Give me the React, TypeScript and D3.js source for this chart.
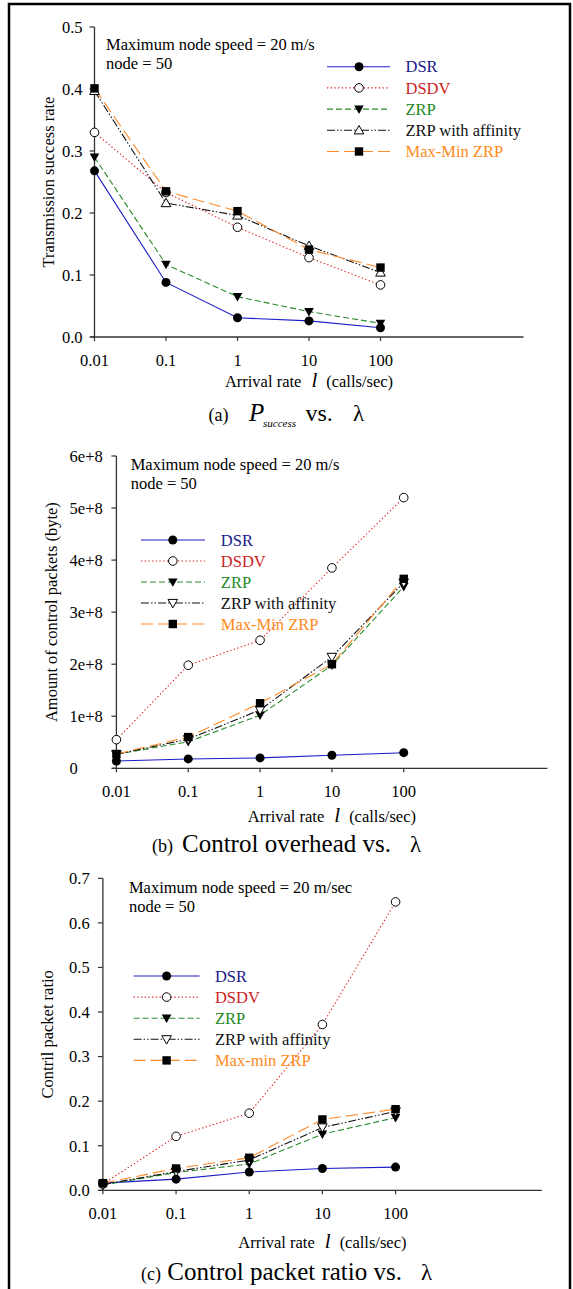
import React from 'react'
import * as d3 from 'd3'

// shared x axis: arrival rate (calls/sec), log scale
const rates = [0.01, 0.1, 1, 10, 100]
const rateLabels = ['0.01', '0.1', '1', '10', '100']
const seriesNames = ['DSR', 'DSDV', 'ZRP', 'ZRP with affinity', 'Max-Min ZRP']
const seriesNamesC = ['DSR', 'DSDV', 'ZRP', 'ZRP with affinity', 'Max-min ZRP']

// (a) transmission success rate
const successDSR = [0.268, 0.088, 0.031, 0.026, 0.015]
const successDSDV = [0.33, 0.233, 0.177, 0.128, 0.084]
const successZRP = [0.29, 0.117, 0.065, 0.041, 0.022]
const successAffinity = [0.397, 0.216, 0.196, 0.147, 0.104]
const successMaxMin = [0.401, 0.235, 0.203, 0.141, 0.112]
const successTicks = [0, 0.1, 0.2, 0.3, 0.4, 0.5]

// (b) amount of control packets (byte)
const overheadDSR = [1.4e7, 1.8e7, 2.0e7, 2.5e7, 3.0e7]
const overheadDSDV = [5.5e7, 1.98e8, 2.46e8, 3.85e8, 5.2e8]
const overheadZRP = [2.7e7, 5.1e7, 1.02e8, 1.98e8, 3.49e8]
const overheadAffinity = [2.7e7, 5.6e7, 1.12e8, 2.14e8, 3.57e8]
const overheadMaxMin = [2.75e7, 6.0e7, 1.25e8, 2.0e8, 3.64e8]
const overheadTicks = [0, 1e8, 2e8, 3e8, 4e8, 5e8, 6e8]
const overheadTickLabels = ['0', '1e+8', '2e+8', '3e+8', '4e+8', '5e+8', '6e+8']

// (c) control packet ratio
const ratioDSR = [0.016, 0.025, 0.041, 0.049, 0.052]
const ratioDSDV = [0.014, 0.121, 0.173, 0.372, 0.647]
const ratioZRP = [0.012, 0.04, 0.059, 0.126, 0.163]
const ratioAffinity = [0.013, 0.042, 0.068, 0.141, 0.177]
const ratioMaxMin = [0.016, 0.049, 0.073, 0.159, 0.182]
const ratioTicks = [0, 0.1, 0.2, 0.3, 0.4, 0.5, 0.6, 0.7]

const FONT = 'Liberation Serif'

const styles = [
  { color: '#1c1cc8', text: '#1a1a8c', dash: '', marker: 'dot' },
  { color: '#e01818', text: '#cc1f1f', dash: '1.3,2.4', marker: 'ring' },
  { color: '#2a8a2a', text: '#1e8a1e', dash: '6,3', marker: 'triDown' },
  { color: '#111111', text: '#111111', dash: '8,2,1.5,2,1.5,2', marker: 'triUpOpen' },
  { color: '#ff8a2a', text: '#ff8a1a', dash: '12,5', marker: 'square' },
]

function Marker({ type, x, y }) {
  if (type === 'dot') return <circle cx={x} cy={y} r={4.5} fill="#000" />
  if (type === 'ring') return <circle cx={x} cy={y} r={4.3} fill="#fff" stroke="#000" strokeWidth={1} />
  if (type === 'square') return <rect x={x - 4.2} y={y - 4.2} width={8.4} height={8.4} fill="#000" />
  const s = 4.8
  if (type === 'triDown')
    return <path d={`M${x - s},${y - s * 0.75}L${x + s},${y - s * 0.75}L${x},${y + s}Z`} fill="#000" />
  if (type === 'triDownOpen')
    return <path d={`M${x - s},${y - s * 0.75}L${x + s},${y - s * 0.75}L${x},${y + s}Z`} fill="#fff" stroke="#000" strokeWidth={1} />
  return <path d={`M${x - s},${y + s * 0.75}L${x + s},${y + s * 0.75}L${x},${y - s}Z`} fill="#fff" stroke="#000" strokeWidth={1} />
}

function Panel(p) {
  const x = d3.scaleLog().domain([0.01, 10000]).range([p.x0, p.x1])
  const y = d3.scaleLinear().domain([0, p.yMax]).range([p.yBottom, p.yTop])
  const line = d3.line().x((d, i) => x(rates[i])).y(d => y(d))
  const markers = styles.map((s, i) => (i === 3 ? p.affinityMarker : s.marker))
  const axisColor = '#333'
  const xMid = (p.x0 + p.x1) / 2
  const yMid = (p.yTop + p.yBottom) / 2

  return (
    <g>
      {/* axes */}
      <line x1={p.x0} x2={p.x0} y1={p.yTop} y2={p.yBottom} stroke={axisColor} strokeWidth={1.3} />
      <line x1={p.x0 - 4} x2={p.x1} y1={p.yBottom} y2={p.yBottom} stroke={axisColor} strokeWidth={1.3} />
      {p.yTicks.map((t, i) => (
        <g key={'yt' + i}>
          <line x1={p.x0 - 5} x2={p.x0} y1={y(t)} y2={y(t)} stroke={axisColor} strokeWidth={1.2} />
          <text x={p.yLabelX} y={y(t)} dy="0.35em" fontSize={16.5} textAnchor={p.yLabelAnchor}>
            {p.yTickLabels[i]}
          </text>
        </g>
      ))}
      {rates.map((r, i) => (
        <g key={'xt' + i}>
          <line x1={x(r)} x2={x(r)} y1={p.yBottom} y2={p.yBottom + 4} stroke={axisColor} strokeWidth={1.2} />
          <text x={x(r)} y={p.yBottom + 23} dy="0.35em" fontSize={16.5} textAnchor="middle">
            {rateLabels[i]}
          </text>
        </g>
      ))}
      <text
        transform={`translate(${p.yTitleX},${yMid}) rotate(-90)`}
        fontSize={16.5}
        textAnchor="middle"
        dominantBaseline="central"
      >
        {p.yTitle}
      </text>
      <text x={xMid} y={p.xLabelY} fontSize={16.5} textAnchor="middle">
        Arrival rate
        <tspan dx={10} fontSize={21} fontStyle="italic">l</tspan>
        <tspan dx={9}>(calls/sec)</tspan>
      </text>

      {/* note */}
      <text x={p.noteX} y={p.noteY} fontSize={16.5}>{p.note}</text>
      <text x={p.noteX} y={p.noteY + 19} fontSize={16.5}>node = 50</text>

      {/* series */}
      {p.series.map((vals, i) => (
        <path
          key={'l' + i}
          d={line(vals)}
          fill="none"
          stroke={styles[i].color}
          strokeWidth={1.1}
          strokeDasharray={styles[i].dash}
        />
      ))}
      {p.series.map((vals, i) =>
        vals.map((v, j) => <Marker key={'m' + i + '-' + j} type={markers[i]} x={x(rates[j])} y={y(v)} />)
      )}

      {/* legend */}
      {p.names.map((n, i) => {
        const ly = p.legY0 + i * p.legStep
        return (
          <g key={'lg' + i}>
            <line
              x1={p.legX1}
              x2={p.legX2}
              y1={ly}
              y2={ly}
              stroke={styles[i].color}
              strokeWidth={1.1}
              strokeDasharray={styles[i].dash}
            />
            <Marker type={markers[i]} x={p.legMX} y={ly} />
            <text x={p.legTX} y={ly} dy="0.35em" fontSize={16.5} fill={styles[i].text}>
              {n}
            </text>
          </g>
        )
      })}
    </g>
  )
}

export default function App() {
  return (
    <svg
      width={573}
      height={1289}
      style={{ position: 'absolute', left: 0, top: 0, background: '#fff', fontFamily: FONT }}
    >
      <rect width={573} height={1289} fill="#fff" />
      <path d="M9,1289V4H570V1289" fill="none" stroke="#000" strokeWidth={2.5} />

      <Panel
        x0={94.5}
        x1={523.5}
        yTop={27}
        yBottom={337}
        yMax={0.5}
        yTicks={successTicks}
        yTickLabels={successTicks.map(d3.format('.1f'))}
        yLabelX={82.5}
        yLabelAnchor="end"
        yTitle="Transmission success rate"
        yTitleX={48}
        xLabelY={387}
        note="Maximum node speed = 20 m/s"
        noteX={106}
        noteY={50}
        series={[successDSR, successDSDV, successZRP, successAffinity, successMaxMin]}
        names={seriesNames}
        affinityMarker="triUpOpen"
        legX1={327}
        legX2={390}
        legMX={359}
        legTX={405.5}
        legY0={66.7}
        legStep={21.2}
      />
      <text y={421} fontSize={18}>
        <tspan x={208.5}>(a)</tspan>
        <tspan x={249} fontSize={25} fontStyle="italic">P</tspan>
        <tspan x={263} dy={5.5} fontSize={11} fontStyle="italic">success</tspan>
        <tspan x={305.5} dy={-5.5} fontSize={24}>vs.</tspan>
        <tspan x={353} fontSize={23}>λ</tspan>
      </text>

      <Panel
        x0={116.4}
        x1={547.4}
        yTop={456}
        yBottom={768.3}
        yMax={6e8}
        yTicks={overheadTicks}
        yTickLabels={overheadTickLabels}
        yLabelX={69.6}
        yLabelAnchor="start"
        yTitle="Amount of control packets (byte)"
        yTitleX={51.3}
        xLabelY={821.5}
        note="Maximum node speed = 20 m/s"
        noteX={130.7}
        noteY={469.5}
        series={[overheadDSR, overheadDSDV, overheadZRP, overheadAffinity, overheadMaxMin]}
        names={seriesNames}
        affinityMarker="triDownOpen"
        legX1={141}
        legX2={205}
        legMX={172.8}
        legTX={220.8}
        legY0={540}
        legStep={21}
      />
      <text y={851.5} fontSize={25}>
        <tspan x={152} fontSize={18}>(b)</tspan>
        <tspan x={182}>Control overhead vs.</tspan>
        <tspan x={410} fontSize={23}>λ</tspan>
      </text>

      <Panel
        x0={102.9}
        x1={541.9}
        yTop={878.3}
        yBottom={1190.3}
        yMax={0.7}
        yTicks={ratioTicks}
        yTickLabels={ratioTicks.map(d3.format('.1f'))}
        yLabelX={89.7}
        yLabelAnchor="end"
        yTitle="Contril packet ratio"
        yTitleX={47.6}
        xLabelY={1248}
        note="Maximum node speed = 20 m/sec"
        noteX={128.9}
        noteY={893.2}
        series={[ratioDSR, ratioDSDV, ratioZRP, ratioAffinity, ratioMaxMin]}
        names={seriesNamesC}
        affinityMarker="triDownOpen"
        legX1={133.6}
        legX2={199.6}
        legMX={166.6}
        legTX={214.9}
        legY0={976}
        legStep={21.1}
      />
      <text y={1280} fontSize={25}>
        <tspan x={141} fontSize={18}>(c)</tspan>
        <tspan x={167.3}>Control packet ratio vs.</tspan>
        <tspan x={421} fontSize={23}>λ</tspan>
      </text>
    </svg>
  )
}
